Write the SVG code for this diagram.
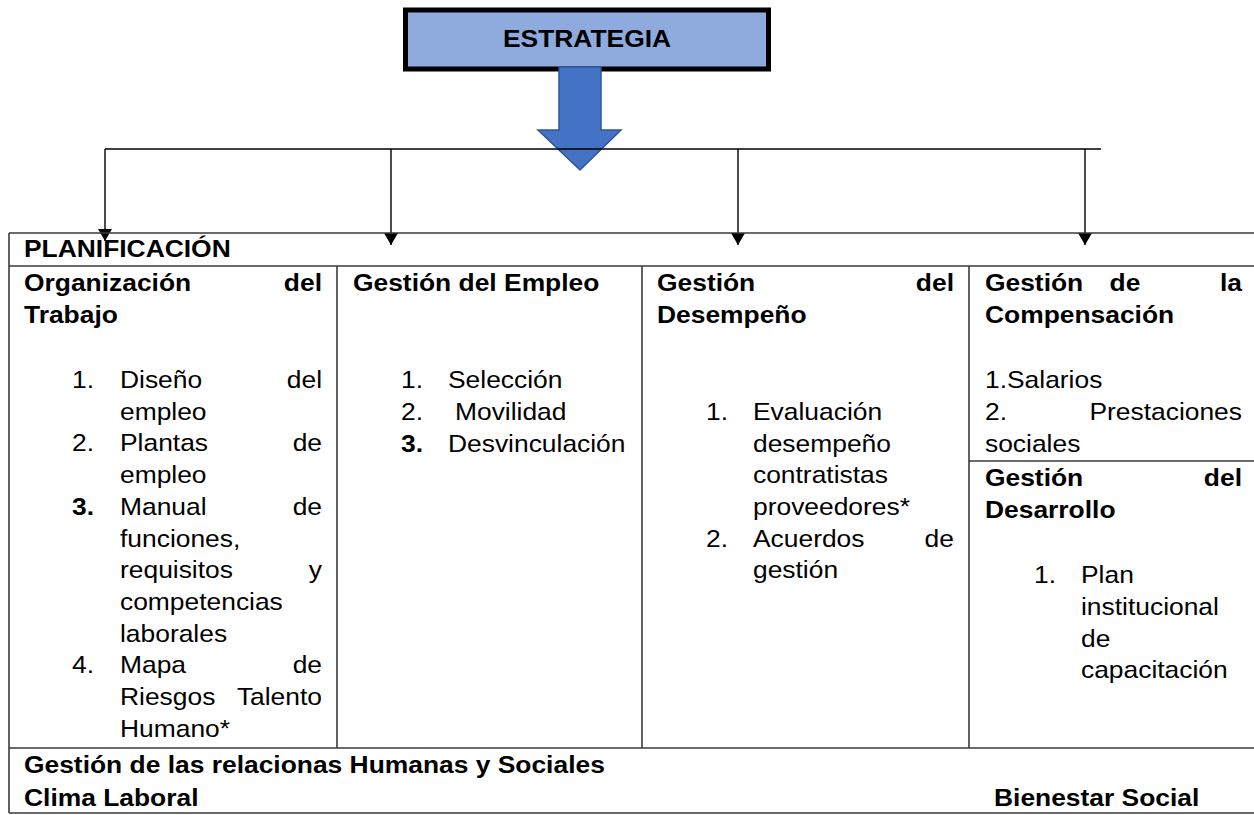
<svg xmlns="http://www.w3.org/2000/svg" width="1254" height="815" viewBox="0 0 1254 815">
<defs>
<style>
.t{font-family:"Liberation Sans",Arial,sans-serif;font-size:24px;fill:#000}
.b{font-weight:bold}
.e{text-anchor:end}
.m{text-anchor:middle}
.grid{stroke:#3a3a3a;stroke-width:1.6;fill:none}
.con{stroke:#000;stroke-width:1.4;fill:none}
</style>
<marker id="ah" markerWidth="12" markerHeight="14" refX="12" refY="7" orient="auto" markerUnits="userSpaceOnUse" viewBox="0 0 12 14">
<path d="M0,0 L12,7 L0,14 Z" fill="#000"/>
</marker>
</defs>
<rect width="1254" height="815" fill="#fff"/>

<g id="estrategia">
<rect x="405.5" y="10" width="363" height="59" fill="#8FAADC" stroke="#000" stroke-width="5"/>
<text class="t b m" x="587" y="47" transform="translate(587 0) scale(1.1 1) translate(-587 0)">ESTRATEGIA</text>
</g>

<g id="big-arrow">
<path d="M559,67 L601,67 L601,130 L621,130 L580,170 L538,130 L559,130 Z" fill="#4472C4" stroke="#2F5597" stroke-width="1.5"/>
</g>

<g id="connectors">
<line class="con" x1="105" y1="149" x2="1101" y2="149"/>
<line class="con" x1="105" y1="149" x2="105" y2="241" marker-end="url(#ah)"/>
<line class="con" x1="391" y1="149" x2="391" y2="245" marker-end="url(#ah)"/>
<line class="con" x1="738" y1="149" x2="738" y2="245" marker-end="url(#ah)"/>
<line class="con" x1="1085" y1="149" x2="1085" y2="245" marker-end="url(#ah)"/>
</g>

<g id="table-grid">
<line class="grid" x1="9" y1="233" x2="1254" y2="233"/>
<line class="grid" x1="9" y1="266" x2="1254" y2="266"/>
<line class="grid" x1="9" y1="748" x2="1254" y2="748"/>
<line class="grid" x1="9" y1="813" x2="1254" y2="813"/>
<line class="grid" x1="9" y1="233" x2="9" y2="813"/>
<line class="grid" x1="337" y1="266" x2="337" y2="748"/>
<line class="grid" x1="642" y1="266" x2="642" y2="748"/>
<line class="grid" x1="969" y1="266" x2="969" y2="748"/>
<line class="grid" x1="969" y1="461" x2="1254" y2="461"/>
</g>

<g transform="scale(1.1 1)">
<g id="planificacion">
<text class="t b" x="21.82" y="257">PLANIFICACIÓN</text>
</g>

<g id="organizacion">
<text class="t b" x="21.82" y="291">Organización</text>
<text class="t b e" x="292.73" y="291">del</text>
<text class="t b" x="21.82" y="323">Trabajo</text>
<text class="t" x="65.45" y="388">1.</text>
<text class="t" x="109.09" y="388">Diseño</text>
<text class="t e" x="292.73" y="388">del</text>
<text class="t" x="109.09" y="420">empleo</text>
<text class="t" x="65.45" y="451">2.</text>
<text class="t" x="109.09" y="451">Plantas</text>
<text class="t e" x="292.73" y="451">de</text>
<text class="t" x="109.09" y="483">empleo</text>
<text class="t b" x="65.45" y="515">3.</text>
<text class="t" x="109.09" y="515">Manual</text>
<text class="t e" x="292.73" y="515">de</text>
<text class="t" x="109.09" y="547">funciones,</text>
<text class="t" x="109.09" y="578">requisitos</text>
<text class="t e" x="292.73" y="578">y</text>
<text class="t" x="109.09" y="610">competencias</text>
<text class="t" x="109.09" y="642">laborales</text>
<text class="t" x="65.45" y="673">4.</text>
<text class="t" x="109.09" y="673">Mapa</text>
<text class="t e" x="292.73" y="673">de</text>
<text class="t" x="109.09" y="705">Riesgos</text>
<text class="t e" x="292.73" y="705">Talento</text>
<text class="t" x="109.09" y="737">Humano*</text>
</g>

<g id="empleo">
<text class="t b" x="320.91" y="291">Gestión del Empleo</text>
<text class="t" x="364.55" y="388">1.</text>
<text class="t" x="407.27" y="388">Selección</text>
<text class="t" x="364.55" y="420">2.</text>
<text class="t" x="413.64" y="420">Movilidad</text>
<text class="t b" x="364.55" y="452">3.</text>
<text class="t" x="407.27" y="452">Desvinculación</text>
</g>

<g id="desempeno">
<text class="t b" x="597.27" y="291">Gestión</text>
<text class="t b e" x="867.27" y="291">del</text>
<text class="t b" x="597.27" y="323">Desempeño</text>
<text class="t" x="641.82" y="420">1.</text>
<text class="t" x="684.55" y="420">Evaluación</text>
<text class="t" x="684.55" y="452">desempeño</text>
<text class="t" x="684.55" y="483">contratistas</text>
<text class="t" x="684.55" y="515">proveedores*</text>
<text class="t" x="641.82" y="547">2.</text>
<text class="t" x="684.55" y="547">Acuerdos</text>
<text class="t e" x="867.27" y="547">de</text>
<text class="t" x="684.55" y="578">gestión</text>
</g>

<g id="compensacion">
<text class="t b" x="895.45" y="291">Gestión</text>
<text class="t b m" x="1022.73" y="291">de</text>
<text class="t b e" x="1129.09" y="291">la</text>
<text class="t b" x="895.45" y="323">Compensación</text>
<text class="t" x="895.45" y="388">1.Salarios</text>
<text class="t" x="895.45" y="420">2.</text>
<text class="t e" x="1129.09" y="420">Prestaciones</text>
<text class="t" x="895.45" y="452">sociales</text>
</g>

<g id="desarrollo">
<text class="t b" x="895.45" y="486">Gestión</text>
<text class="t b e" x="1129.09" y="486">del</text>
<text class="t b" x="895.45" y="518">Desarrollo</text>
<text class="t" x="940" y="583">1.</text>
<text class="t" x="982.73" y="583">Plan</text>
<text class="t" x="982.73" y="615">institucional</text>
<text class="t" x="982.73" y="647">de</text>
<text class="t" x="982.73" y="678">capacitación</text>
</g>

<g id="relaciones">
<text class="t b" x="21.82" y="773">Gestión de las relacionas Humanas y Sociales</text>
<text class="t b" x="21.82" y="806">Clima Laboral</text>
<text class="t b" x="903.64" y="806">Bienestar Social</text>
</g>
</g>
</svg>
